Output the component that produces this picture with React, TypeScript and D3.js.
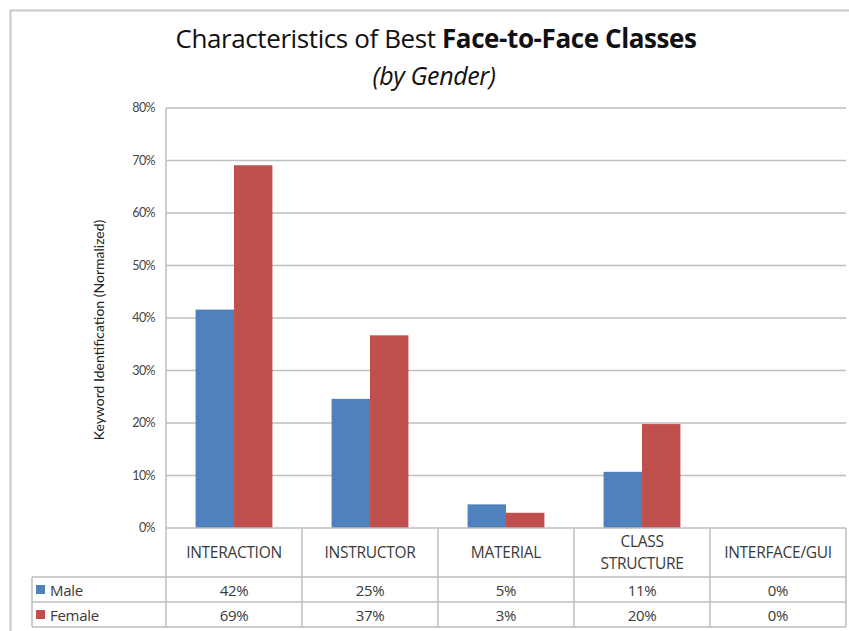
import React from "react";
import * as d3 from "d3";

// data
const categories = ["INTERACTION", "INSTRUCTOR", "MATERIAL", "CLASS STRUCTURE", "INTERFACE/GUI"];
const series = ["Male", "Female"];
const maleValues = [0.416, 0.246, 0.045, 0.107, 0];
const femaleValues = [0.691, 0.367, 0.029, 0.198, 0];
const yTicks = [0, 0.1, 0.2, 0.3, 0.4, 0.5, 0.6, 0.7, 0.8];

const colors = ["#4F81BD", "#C0504D"];
const gridColor = "#BEBEBE";
const textColor = "#3a3a3a";

const W = 849;
const H = 631;
const plot = { left: 166, right: 846, top: 108, bottom: 528 };
const rowH = { header: 49, row: 25 };
const legendLeft = 32;

const App = () => {
  const values = [maleValues, femaleValues];

  const x0 = d3.scaleBand<string>().domain(categories).range([plot.left, plot.right]).padding(0);
  const x1 = d3
    .scaleBand<string>()
    .domain(series)
    .range([0, x0.bandwidth()])
    .paddingInner(0)
    .paddingOuter(0.77);
  const y = d3.scaleLinear().domain([0, 0.8]).range([plot.bottom, plot.top]);
  const pct = d3.format(".0%");

  const headerBottom = plot.bottom + rowH.header;
  const rowTops = [headerBottom, headerBottom + rowH.row];
  const tableBottom = headerBottom + rowH.row * 2;

  return (
    <svg width={W} height={H} style={{ position: "absolute", left: 0, top: 0, background: "#fff" }}>
      {/* outer chart border (cropped at right/bottom) */}
      <path d={`M10.5,${H}V10.5H${W}`} fill="none" stroke="#C8C8C8" strokeWidth={2} />

      {/* title */}
      <text
        x={436}
        y={48}
        textAnchor="middle"
        fontFamily="'Open Sans', sans-serif"
        fontSize={26}
        fill="#111"
        letterSpacing={-0.4}
      >
        Characteristics of Best <tspan fontWeight="bold">Face-to-Face Classes</tspan>
      </text>
      <text
        x={434}
        y={85}
        textAnchor="middle"
        fontFamily="'Open Sans', sans-serif"
        fontStyle="italic"
        fontSize={25}
        fill="#111"
        letterSpacing={-0.4}
      >
        (by Gender)
      </text>

      {/* gridlines */}
      {yTicks.map((t) => (
        <g key={t}>
          {t > 0 && (
            <line x1={plot.left} x2={plot.right} y1={y(t)} y2={y(t)} stroke={gridColor} strokeWidth={1.5} />
          )}
          <text
            x={155}
            y={y(t) + 4}
            textAnchor="end"
            fontFamily="'Lato', sans-serif"
            fontSize={12.5}
            letterSpacing={-0.6}
            fill="#444"
          >
            {pct(t)}
          </text>
        </g>
      ))}

      {/* y axis title */}
      <text
        transform={`translate(104,330) rotate(-90)`}
        textAnchor="middle"
        fontFamily="'Lato', sans-serif"
        fontSize={14}
        fill="#222"
      >
        Keyword Identification (Normalized)
      </text>

      {/* bars */}
      {categories.map((c, ci) => (
        <g key={c} transform={`translate(${x0(c)},0)`}>
          {series.map((s, si) => {
            const v = values[si][ci];
            return (
              <rect
                key={s}
                x={x1(s)}
                y={y(v)}
                width={x1.bandwidth()}
                height={plot.bottom - y(v)}
                fill={colors[si]}
              />
            );
          })}
        </g>
      ))}

      {/* data table */}
      <g fill="none" stroke={gridColor} strokeWidth={1.5}>
        <line x1={plot.left} x2={plot.left} y1={plot.top} y2={tableBottom} />
        <line x1={plot.left} x2={plot.right} y1={plot.bottom} y2={plot.bottom} />
        <line x1={plot.right} x2={plot.right} y1={plot.bottom} y2={tableBottom} />
        {categories.slice(1).map((c) => (
          <line key={c} x1={x0(c)} x2={x0(c)} y1={plot.bottom} y2={tableBottom} />
        ))}
        {[...rowTops, tableBottom].map((ry) => (
          <line key={ry} x1={legendLeft} x2={plot.right} y1={ry} y2={ry} />
        ))}
        <line x1={legendLeft} x2={legendLeft} y1={rowTops[0]} y2={tableBottom} />
      </g>

      {/* category header */}
      {categories.map((c) => {
        const words = c === "CLASS STRUCTURE" ? ["CLASS", "STRUCTURE"] : [c];
        const cx = (x0(c) as number) + x0.bandwidth() / 2;
        const cy = plot.bottom + 30;
        return (
          <text
            key={c}
            x={cx}
            y={cy - ((words.length - 1) * 22) / 2}
            textAnchor="middle"
            fontFamily="'Open Sans', sans-serif"
            fontSize={15.5}
            letterSpacing={-0.3}
            fill={textColor}
          >
            {words.map((w, i) => (
              <tspan key={w} x={cx} dy={i === 0 ? 0 : 22}>
                {w}
              </tspan>
            ))}
          </text>
        );
      })}

      {/* series rows */}
      {series.map((s, si) => (
        <g key={s}>
          <rect x={legendLeft + 4} y={rowTops[si] + 8} width={9} height={9} fill={colors[si]} />
          <text
            x={legendLeft + 18}
            y={rowTops[si] + 18.5}
            fontFamily="'Open Sans', sans-serif"
            fontSize={15}
            letterSpacing={-0.3}
            fill={textColor}
          >
            {s}
          </text>
          {categories.map((c, ci) => (
            <text
              key={c}
              x={(x0(c) as number) + x0.bandwidth() / 2}
              y={rowTops[si] + 18.5}
              textAnchor="middle"
              fontFamily="'Open Sans', sans-serif"
              fontSize={15}
              letterSpacing={-0.3}
              fill={textColor}
            >
              {pct(values[si][ci])}
            </text>
          ))}
        </g>
      ))}
    </svg>
  );
};

export default App;
